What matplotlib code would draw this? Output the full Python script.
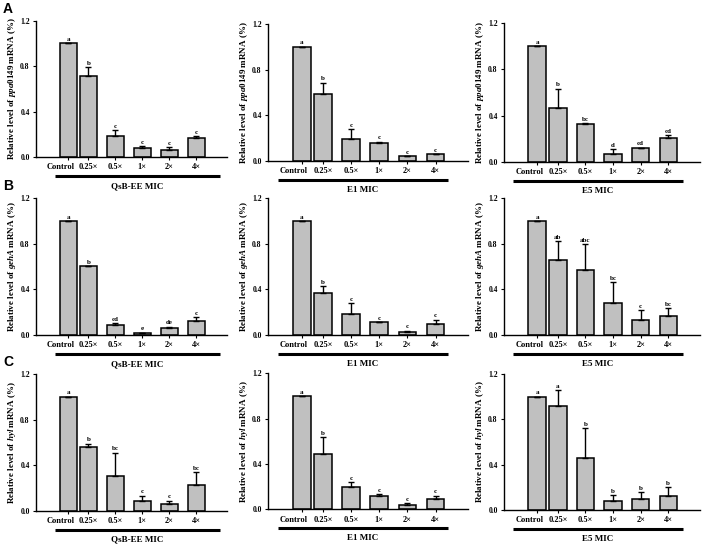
import numpy as np
import matplotlib.pyplot as plt
from matplotlib.transforms import ScaledTranslation

plt.rcParams["font.family"] = ["Liberation Serif", "DejaVu Serif"]
plt.rcParams["font.weight"] = "bold"
plt.rcParams["mathtext.fontset"] = "custom"
plt.rcParams["mathtext.it"] = "Liberation Serif:italic:bold"
plt.rcParams["mathtext.rm"] = "Liberation Serif:bold"

categories = ["Control", "0.25×", "0.5×", "1×", "2×", "4×"]
genes = ["ppa0149", "gehA", "hyl"]
treatments = ["QsB-EE MIC", "E1 MIC", "E5 MIC"]

# relative mRNA level (mean) and upper error
ppa_qsb = [1.0, 0.717, 0.186, 0.077, 0.059, 0.171]
ppa_qsb_err = [0.0, 0.075, 0.05, 0.02, 0.03, 0.01]
ppa_e1 = [1.0, 0.585, 0.196, 0.16, 0.044, 0.06]
ppa_e1_err = [0.0, 0.10, 0.085, 0.01, 0.0, 0.0]
ppa_e5 = [1.0, 0.468, 0.326, 0.071, 0.116, 0.204]
ppa_e5_err = [0.0, 0.166, 0.009, 0.04, 0.005, 0.024]

geh_qsb = [1.0, 0.602, 0.084, 0.017, 0.058, 0.122]
geh_qsb_err = [0.0, 0.0, 0.021, 0.004, 0.015, 0.035]
geh_e1 = [1.0, 0.368, 0.186, 0.113, 0.026, 0.099]
geh_e1_err = [0.0, 0.058, 0.092, 0.0, 0.012, 0.034]
geh_e5 = [1.0, 0.655, 0.573, 0.285, 0.13, 0.168]
geh_e5_err = [0.0, 0.17, 0.223, 0.177, 0.088, 0.067]

hyl_qsb = [1.0, 0.555, 0.302, 0.089, 0.063, 0.227]
hyl_qsb_err = [0.0, 0.032, 0.208, 0.043, 0.026, 0.113]
hyl_e1 = [1.0, 0.492, 0.201, 0.121, 0.04, 0.089]
hyl_e1_err = [0.0, 0.147, 0.038, 0.011, 0.015, 0.032]
hyl_e5 = [1.0, 0.922, 0.463, 0.079, 0.096, 0.125]
hyl_e5_err = [0.0, 0.134, 0.257, 0.051, 0.061, 0.079]

letters = [
    [["a", "b", "c", "c", "c", "c"],
     ["a", "b", "c", "c", "c", "c"],
     ["a", "b", "bc", "d", "cd", "cd"]],
    [["a", "b", "cd", "e", "de", "c"],
     ["a", "b", "c", "c", "c", "c"],
     ["a", "ab", "abc", "bc", "c", "bc"]],
    [["a", "b", "bc", "c", "c", "bc"],
     ["a", "b", "c", "c", "c", "c"],
     ["a", "a", "b", "b", "b", "b"]],
]

means = [[ppa_qsb, ppa_e1, ppa_e5], [geh_qsb, geh_e1, geh_e5], [hyl_qsb, hyl_e1, hyl_e5]]
errs = [[ppa_qsb_err, ppa_e1_err, ppa_e5_err],
        [geh_qsb_err, geh_e1_err, geh_e5_err],
        [hyl_qsb_err, hyl_e1_err, hyl_e5_err]]

W, H = 709, 546
fig = plt.figure(figsize=(W / 100, H / 100), dpi=100)

# axes placement in pixels
lefts = [36, 268, 504]
rights = [227, 468, 700]
tops = [[20.7, 24, 23.3], [198.3, 198.3, 198.3], [374, 373.3, 374]]
bottoms = [[157, 161, 161.7], [335, 335, 335], [510.7, 509.3, 510]]
line_span = [(0.10, 0.963), (0.05, 0.90), (0.046, 0.913)]
panel_tags = ["A", "B", "C"]

x = np.arange(len(categories), dtype=float)
x[0] += 0.25

for r in range(3):
    for c in range(3):
        l, rt = lefts[c], rights[c]
        t, b = tops[r][c], bottoms[r][c]
        ax = fig.add_axes([l / W, 1 - b / H, (rt - l) / W, (b - t) / H])
        m = np.array(means[r][c])
        e = np.array(errs[r][c])
        ax.bar(x, m, width=0.63, color="#c0c0c0", edgecolor="black", linewidth=1.1, zorder=2)
        ax.errorbar(x, m, yerr=[np.zeros_like(e), e], fmt="none", ecolor="black",
                    elinewidth=1.0, capsize=2, capthick=1.0, zorder=3)
        for xi, yi, lab in zip(x, m + e, letters[r][c]):
            ax.text(xi, yi + 0.012, lab, ha="center", va="bottom", fontsize=5, fontweight="bold")
        ax.set_xlim(-0.95, 6.15)
        ax.set_ylim(0, 1.2)
        ax.set_yticks([0.0, 0.4, 0.8, 1.2])
        ax.set_yticklabels([f"{v:.1f}" for v in [0.0, 0.4, 0.8, 1.2]])
        ax.set_xticks(x)
        ax.set_xticklabels(categories)
        ax.tick_params(axis="both", labelsize=5.5, length=2.5, width=0.8, pad=2)
        ax.tick_params(axis="x", labelsize=6)
        # the "Control" label sits a little left of its bar
        lab0 = ax.get_xticklabels()[0]
        lab0.set_transform(lab0.get_transform() + ScaledTranslation(-8 / 100, 0, fig.dpi_scale_trans))
        for s in ["top", "right"]:
            ax.spines[s].set_visible(False)
        for s in ["left", "bottom"]:
            ax.spines[s].set_linewidth(1.0)
        ax.set_ylabel(f"Relative level of $\\mathit{{{genes[r]}}}$ mRNA (%)",
                      fontsize=6.5, fontweight="bold", labelpad=1.5)

        hpx = b - t
        x0, x1 = line_span[c]
        ax.plot([x0, x1], [-19 / hpx, -19 / hpx], transform=ax.transAxes, color="black",
                lw=2.2, clip_on=False, solid_capstyle="butt")
        ax.text((x0 + x1) / 2, -29 / hpx, treatments[c], transform=ax.transAxes,
                ha="center", va="center", fontsize=6.5, fontweight="bold")

    fig.text(3 / W, 1 - (tops[r][0] - 12) / H, panel_tags[r], family="Liberation Sans",
             fontsize=10, fontweight="bold", ha="left", va="center")

fig.savefig("out.png", dpi=100)
